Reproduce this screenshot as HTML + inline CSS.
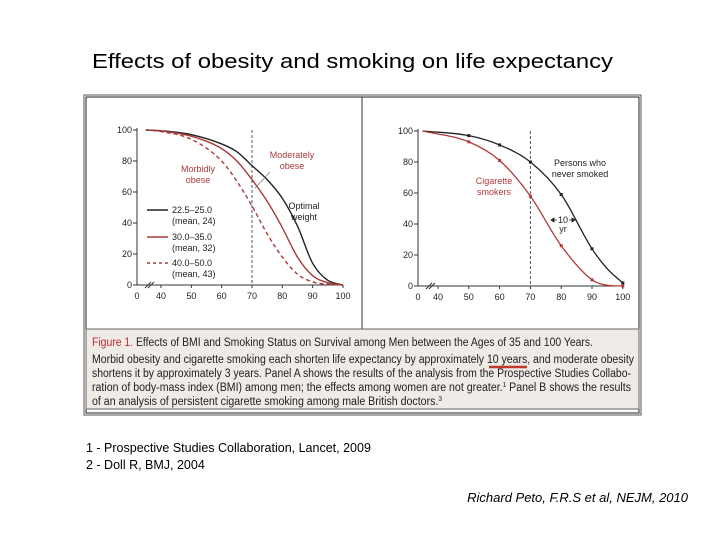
<!DOCTYPE html>
<html><head><meta charset="utf-8"><style>
body{margin:0;background:#fff;width:720px;height:540px;overflow:hidden;font-family:"Liberation Sans",sans-serif;}
</style></head><body>
<svg width="720" height="540" xmlns="http://www.w3.org/2000/svg">
<text x="92" y="68" font-size="20" fill="#000" textLength="521" lengthAdjust="spacingAndGlyphs">Effects of obesity and smoking on life expectancy</text>
<g>
<rect x="84" y="95" width="557" height="320" fill="#fff" stroke="#555" stroke-width="1"/>
<rect x="86" y="97" width="553" height="316" fill="none" stroke="#222" stroke-width="1"/>
<line x1="362" y1="97" x2="362" y2="329" stroke="#333" stroke-width="1"/>
<rect x="86" y="329" width="553" height="80" fill="#efebe7" stroke="#666" stroke-width="1"/>
</g>
<g id="panelA"></g>
<g id="panelB"></g>
<g font-size="11.5" fill="#222">
<text x="92" y="346" textLength="501" lengthAdjust="spacingAndGlyphs"><tspan fill="#c0272d">Figure 1.</tspan> Effects of BMI and Smoking Status on Survival among Men between the Ages of 35 and 100 Years.</text>
<text x="92" y="363" textLength="542" lengthAdjust="spacingAndGlyphs">Morbid obesity and cigarette smoking each shorten life expectancy by approximately 10 years, and moderate obesity</text>
<line x1="489" y1="367" x2="527" y2="367" stroke="#c0392b" stroke-width="2.5"/>
<text x="92" y="377" textLength="539" lengthAdjust="spacingAndGlyphs">shortens it by approximately 3 years. Panel A shows the results of the analysis from the Prospective Studies Collabo-</text>
<text x="92" y="391" textLength="539" lengthAdjust="spacingAndGlyphs">ration of body-mass index (BMI) among men; the effects among women are not greater.<tspan font-size="7" dy="-4">1</tspan><tspan dy="4"> Panel B shows the results</tspan></text>
<text x="92" y="405" textLength="350" lengthAdjust="spacingAndGlyphs">of an analysis of persistent cigarette smoking among male British doctors.<tspan font-size="7" dy="-4">3</tspan></text>
</g>
<text x="86" y="452" font-size="12.5">1 - Prospective Studies Collaboration, Lancet, 2009</text>
<text x="86" y="469" font-size="12.5">2 - Doll R, BMJ, 2004</text>
<text x="688" y="502" font-size="13" font-style="italic" text-anchor="end">Richard Peto, F.R.S et al, NEJM, 2010</text>
</svg>
<script>
const ages = [35, 40, 50, 60, 65, 70, 75, 80, 85, 90, 95, 100];
const optimalWeight = [100, 99.5, 97, 91, 86, 77, 68, 56, 38, 14, 3, 0];
const moderatelyObese = [100, 99.3, 96, 88, 80, 68, 54, 37, 18, 6, 1.5, 0];
const morbidlyObese = [100, 99, 94, 80, 67, 51, 33, 18, 7, 2, 0.5, 0];
const smokeAges = [35, 50, 60, 70, 80, 90, 95, 100];
const neverSmoked = [100, 97, 91, 80, 59, 24, 11, 2];
const smokers = [100, 93, 81, 58, 26, 4, 0.5, 0];
const xTicks = [40, 50, 60, 70, 80, 90, 100];
const yTicks = [0, 20, 40, 60, 80, 100];
const NS = "http://www.w3.org/2000/svg";
function mk(parent, tag, attrs, txt){const e=document.createElementNS(NS,tag);for(const k in attrs)e.setAttribute(k,attrs[k]);if(txt!==undefined)e.textContent=txt;parent.appendChild(e);return e;}
function axes(g, o){
  const sx=v=>o.x0+(v-40)*o.kx, sy=v=>o.y0-v*o.ky;
  const ax=mk(g,'path',{d:`M${o.ax} ${sy(100)-2}V${o.y0}H${sx(100)}`,fill:'none',stroke:'#333','stroke-width':1});
  
  
  yTicks.forEach(t=>{
    mk(g,'line',{x1:o.ax-4,y1:sy(t),x2:o.ax,y2:sy(t),stroke:'#333'});
    const l=mk(g,'text',{x:o.ax-5,y:sy(t)+3,'font-size':9,'text-anchor':'end',fill:'#222'},t);
    
    
  });
  xTicks.forEach(t=>{
    mk(g,'line',{x1:sx(t),y1:o.y0,x2:sx(t),y2:o.y0+3,stroke:'#333'});
    const l=mk(g,'text',{x:sx(t),y:o.y0+14,'font-size':9,'text-anchor':'middle',fill:'#222'},t);
    
    
  });
  const z=mk(g,'text',{x:o.ax,y:o.y0+14,'font-size':9,'text-anchor':'middle',fill:'#222'},'0');
  
  
  mk(g,'path',{d:`M${o.ax+8} ${o.y0+3}l6 -6M${o.ax+11} ${o.y0+3}l6 -6`,stroke:'#333',fill:'none'});
  const vl=mk(g,'line',{x1:sx(70),y1:sy(100),x2:sx(70),y2:o.y0,stroke:'#555','stroke-dasharray':'3,2'});
  
  
  return {sx,sy};
}
// monotone cubic (Fritsch-Carlson) to avoid overshoot
function smooth(xs,ys,sx,sy){
  const n=xs.length, d=[], m=[];
  for(let i=0;i<n-1;i++) d.push((ys[i+1]-ys[i])/(xs[i+1]-xs[i]));
  m[0]=d[0]; m[n-1]=d[n-2];
  for(let i=1;i<n-1;i++) m[i]=(d[i-1]*d[i]<=0)?0:(d[i-1]+d[i])/2;
  for(let i=0;i<n-1;i++){ if(d[i]===0){m[i]=0;m[i+1]=0;continue;}
    const a=m[i]/d[i], b=m[i+1]/d[i], s=a*a+b*b;
    if(s>9){const t=3/Math.sqrt(s); m[i]=t*a*d[i]; m[i+1]=t*b*d[i];} }
  let p=`M${sx(xs[0])} ${sy(ys[0])}`;
  for(let i=0;i<n-1;i++){const h=xs[i+1]-xs[i];
    p+=`C${sx(xs[i]+h/3)} ${sy(ys[i]+m[i]*h/3)} ${sx(xs[i+1]-h/3)} ${sy(ys[i+1]-m[i+1]*h/3)} ${sx(xs[i+1])} ${sy(ys[i+1])}`;}
  return p;
}
function txt(g,x,y,s,c,name,anchor){const t=mk(g,'text',{x,y,'font-size':9,fill:c,'text-anchor':anchor||'start'},s);
  
  }
// Panel A
const gA=document.getElementById('panelA');
const A=axes(gA,{x0:161,kx:3.033,y0:285,ky:1.55,ax:137});
[[optimalWeight,'#222','','line-optimal-weight'],[moderatelyObese,'#a83a3a','','line-moderately-obese'],[morbidlyObese,'#a83a3a','4,3','line-morbidly-obese']].forEach(s=>{
  const p=mk(gA,'path',{d:smooth(ages,s[0],A.sx,A.sy),fill:'none',stroke:s[1],'stroke-width':1.4,'stroke-dasharray':s[2]});
  
  
});
txt(gA,292,158,'Moderately','#a83a3a','label-moderately-obese','middle');
txt(gA,292,169,'obese','#a83a3a','label-moderately-obese','middle');
mk(gA,'line',{x1:270,y1:172,x2:255,y2:188,stroke:'#777','stroke-width':0.7});
txt(gA,198,172,'Morbidly','#a83a3a','label-morbidly-obese','middle');
txt(gA,198,183,'obese','#a83a3a','label-morbidly-obese','middle');
txt(gA,304,209,'Optimal','#222','label-optimal-weight','middle');
txt(gA,304,220,'weight','#222','label-optimal-weight','middle');
[['22.5\u201325.0','(mean, 24)','#222','',213],['30.0\u201335.0','(mean, 32)','#a83a3a','',240],['40.0\u201350.0','(mean, 43)','#a83a3a','3,3',266]].forEach(l=>{
  const ln=mk(gA,'line',{x1:147,y1:l[4]-3,x2:168,y2:l[4]-3,stroke:l[2],'stroke-width':1.4,'stroke-dasharray':l[3]});
  
  
  txt(gA,172,l[4],l[0],'#222','legend-entry');
  txt(gA,172,l[4]+11,l[1],'#222','legend-entry');
});
// Panel B
const gB=document.getElementById('panelB');
const B=axes(gB,{x0:438,kx:3.08,y0:286,ky:1.55,ax:418});
[[neverSmoked,'#222','line-never-smoked'],[smokers,'#b03a3a','line-cigarette-smokers']].forEach(s=>{
  const p=mk(gB,'path',{d:smooth(smokeAges,s[0],B.sx,B.sy),fill:'none',stroke:s[1],'stroke-width':1.3});
  
  
  smokeAges.forEach((a,i)=>{if(a>=50&&a!==95){const c=mk(gB,'rect',{x:B.sx(a)-1.5,y:B.sy(s[0][i])-1.5,width:3,height:3,fill:s[1]});
    
    }});
});
txt(gB,580,166,'Persons who','#222','label-never-smoked','middle');
txt(gB,580,177,'never smoked','#222','label-never-smoked','middle');
txt(gB,494,184,'Cigarette','#b03a3a','label-cigarette-smokers','middle');
txt(gB,494,195,'smokers','#b03a3a','label-cigarette-smokers','middle');
mk(gB,'path',{d:'M551 220H557M569 220H575M551 220l3 -2v4zM575 220l-3 -2v4z',stroke:'#222',fill:'#222','stroke-width':0.8});
txt(gB,563,223,'10','#222','label-10-yr','middle');
txt(gB,563,232,'yr','#222','label-10-yr','middle');
</script>
</body></html>
